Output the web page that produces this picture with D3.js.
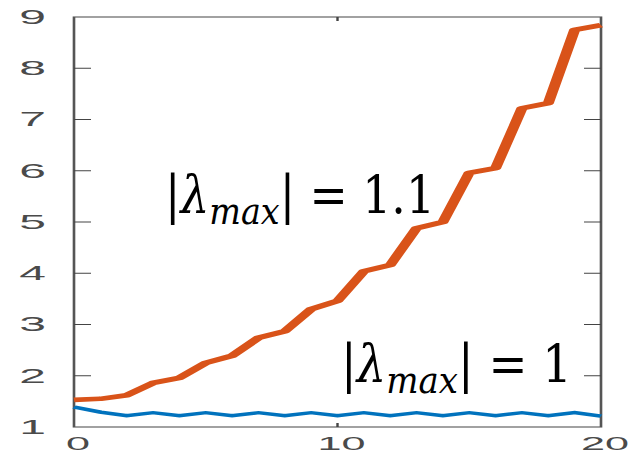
<!DOCTYPE html>
<html>
<head>
<meta charset="utf-8">
<script src="https://cdn.jsdelivr.net/npm/d3@7"></script>
<style>
  body { margin: 0; background: #fff; }
  svg { display: block; }
</style>
</head>
<body>
<script>
var width = 630,
    height = 453,
    sx = 2.4; // the picture is stretched sideways

// data
var steps = d3.range(0, 21);
var grow = [1.53, 1.55, 1.62, 1.86, 1.96, 2.25, 2.39, 2.74, 2.87, 3.30, 3.46,
            4.04, 4.16, 4.88, 5.00, 5.96, 6.05, 7.22, 7.32, 8.75, 8.84];
var flat = [1.39, 1.29, 1.22, 1.28, 1.22, 1.28, 1.22, 1.28, 1.22, 1.28, 1.22,
            1.28, 1.22, 1.28, 1.22, 1.28, 1.22, 1.28, 1.22, 1.28, 1.21];
var yTicks = [1, 2, 3, 4, 5, 6, 7, 8, 9];
var xTicks = [0, 10, 20];
var lambdas = ["1.1", "1"];

var svg = d3.select("body").append("svg")
    .attr("width", width)
    .attr("height", height);

var g = svg.append("g")
    .attr("transform", "scale(" + sx + ",1)");

var x = d3.scaleLinear().domain([0, 20]).range([74 / sx, 601 / sx]);
var y = d3.scaleLinear().domain([1, 9]).range([427, 17]);

// box
g.append("rect")
    .attr("x", x(0))
    .attr("y", y(9))
    .attr("width", x(20) - x(0))
    .attr("height", y(1) - y(9))
    .attr("fill", "none")
    .attr("stroke", "#555")
    .attr("stroke-width", 1.1);

// y ticks, inside on both sides
g.selectAll(".ytick")
    .data(yTicks.slice(1, -1))
    .enter().append("path")
    .attr("class", "ytick")
    .attr("d", function(d) {
      return "M" + x(0) + "," + y(d) + "h" + (17 / sx) +
             "M" + x(20) + "," + y(d) + "h" + (-17 / sx);
    })
    .attr("stroke", "#444")
    .attr("stroke-width", 1);

// x ticks
g.selectAll(".xtick")
    .data(xTicks.slice(1, -1))
    .enter().append("path")
    .attr("class", "xtick")
    .attr("d", function(d) {
      return "M" + x(d) + "," + y(1) + "v-4" +
             "M" + x(d) + "," + y(9) + "v4";
    })
    .attr("stroke", "#444")
    .attr("stroke-width", 1);

g.selectAll(".ylab")
    .data(yTicks)
    .enter().append("text")
    .attr("class", "ylab")
    .attr("x", 46 / sx)
    .attr("y", function(d) { return y(d) + 7; })
    .attr("text-anchor", "end")
    .attr("font-family", "Liberation Sans, Arial, sans-serif")
    .attr("font-size", 20)
    .attr("fill", "#4a4a4a")
    .text(function(d) { return d; });

g.selectAll(".xlab")
    .data(xTicks)
    .enter().append("text")
    .attr("class", "xlab")
    .attr("x", function(d) { return x(d) + 4 / sx; })
    .attr("y", 450)
    .attr("text-anchor", "middle")
    .attr("font-family", "Liberation Sans, Arial, sans-serif")
    .attr("font-size", 18)
    .attr("fill", "#4a4a4a")
    .text(function(d) { return d; });

var line = d3.line()
    .x(function(d, i) { return x(steps[i]); })
    .y(function(d) { return y(d); });

g.append("path")
    .datum(flat)
    .attr("d", line)
    .attr("fill", "none")
    .attr("stroke", "#0072BD")
    .attr("stroke-width", 3.4);

g.append("path")
    .datum(grow)
    .attr("d", line)
    .attr("fill", "none")
    .attr("stroke", "#D95319")
    .attr("stroke-width", 4.6)
    .attr("stroke-linejoin", "round");

// annotations (not stretched), fitted to the width they take in the picture
var spots = [[165, 213, 270], [341, 382, 231]];
lambdas.forEach(function(v, i) {
  var s = spots[i];
  var a = svg.append("g");
  var t = a.append("text")
      .attr("font-family", "DejaVu Serif, Liberation Serif, serif")
      .attr("font-size", 52)
      .attr("fill", "#000");
  t.append("tspan").text("|");
  t.append("tspan").attr("font-style", "italic").text("λ");
  t.append("tspan").attr("font-style", "italic").attr("font-size", 38)
      .attr("dy", 11).text("max");
  t.append("tspan").attr("dy", -11).text("| = " + v);
  var b = t.node().getBBox();
  a.attr("transform", "translate(" + (s[0] - b.x * s[2] / b.width) + "," + s[1] + ") scale(" + (s[2] / b.width) + ",1)");
});
</script>
</body>
</html>
